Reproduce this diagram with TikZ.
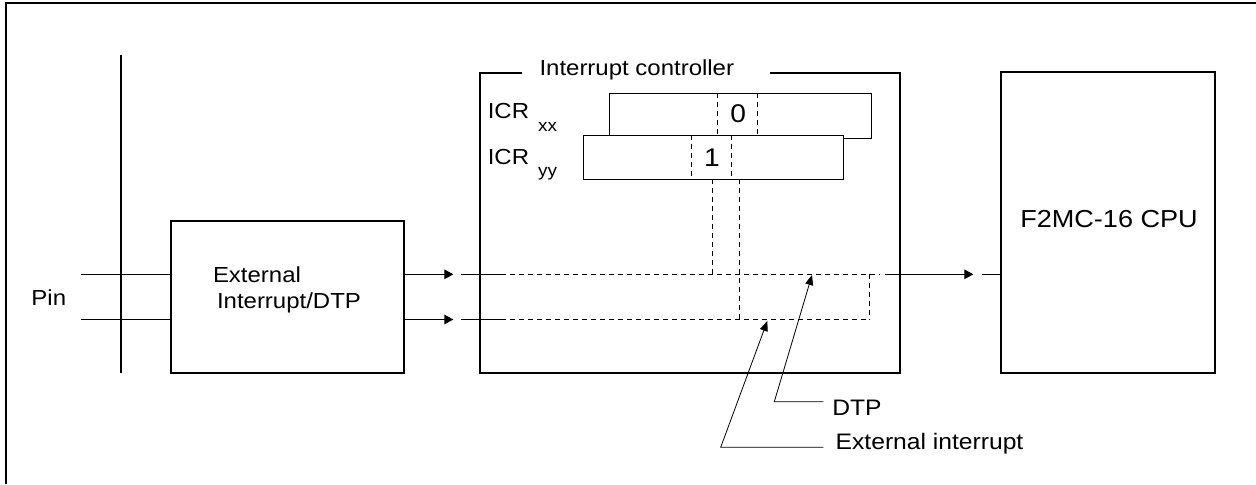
\documentclass[tikz,border=0pt]{standalone}
\usepackage{fontspec}
\setmainfont{Liberation Sans}[FakeStretch=1.1]
\usetikzlibrary{arrows.meta,calc}
\begin{document}
\begin{tikzpicture}[x=0.5pt,y=-0.5pt,
  lbl/.style={inner sep=0pt, outer sep=0pt, font=\fontsize{10.9}{12}\selectfont},
  lblm/.style={inner sep=0pt, outer sep=0pt, font=\fontsize{11.2}{12}\selectfont},
  lblb/.style={inner sep=0pt, outer sep=0pt, font=\fontsize{12.3}{14}\selectfont},
  lbld/.style={inner sep=0pt, outer sep=0pt, font=\fontsize{12.8}{14}\selectfont},
  bigbox/.style={draw, line width=1pt, rectangle, inner sep=0pt, outer sep=0pt},
  regbox/.style={draw, line width=0.5pt, rectangle, fill=white, inner sep=0pt, outer sep=0pt},
  sig/.style={line width=0.5pt},
  dsh/.style={line width=0.5pt, dash pattern=on 2.25pt off 2.25pt},
  sigarr/.style={line width=0.5pt, -{Triangle[length=4.5pt,width=4.8pt]}},
  leader/.style={line width=0.4pt, -{Triangle[length=5pt,width=4pt]}}
]
\useasboundingbox (0,0) rectangle (1256,484);
% outer frame
\draw[line width=1pt] (6,484) -- (6,3) -- (1256,3);

% bus line
\coordinate (busT) at (120.7,55);
\coordinate (busB) at (120.7,372.7);
\draw[line width=1pt] (busT) -- (busB);

% boxes
\node[bigbox, minimum width=116.65pt, minimum height=76pt] (ext) at (287.35,296.7) {};
\node[inner sep=0pt, outer sep=0pt, minimum width=209.85pt, minimum height=149.7pt] (ctrl) at (690.15,223) {};
\draw[line width=1pt] ($(ctrl.north west)+(41.7,0)$) -- (ctrl.north west) -- (ctrl.south west)
  -- (ctrl.south east) -- (ctrl.north east) -- ($(ctrl.north east)+(-130,0)$);
\node[bigbox, minimum width=107.3pt, minimum height=150.5pt] (cpu) at (1108,222.2) {};

% registers
\node[regbox, minimum width=131pt, minimum height=22.5pt] (icrxx) at (740,115.5) {};
\draw[dsh] (717.7,93) -- (717.7,138);
\draw[dsh] (757.3,93) -- (757.3,138);
\node[regbox, minimum width=130pt, minimum height=22pt] (icryy) at (713,157) {};
\draw[dsh] (691.7,135) -- (691.7,179);
\draw[dsh] (731.7,135) -- (731.7,179);

% texts
\node[lbl, anchor=base west] (pinlbl) at (31.5,305) {Pin};
\node[lbl, anchor=base west] (ext1) at (213,282.7) {External};
\node[lbl, anchor=base west] (ext2) at (217,308.3) {Interrupt/DTP};
\node[lbl, anchor=base west] (title) at (539.5,75.7) {Interrupt controller};
\node[lbl, anchor=base west] (icrxxlbl) at (487.8,118.3) {ICR\hspace{4.5pt}\raisebox{-6.4pt}{\fontsize{8.6}{9}\selectfont xx}};
\node[lbl, anchor=base west] (icryylbl) at (487.8,164) {ICR\hspace{4.5pt}\raisebox{-6pt}{\fontsize{8.6}{9}\selectfont yy}};
\node[lbld, anchor=base] (bit0) at (738.2,122.8) {0};
\node[lbld, anchor=base] (bit1) at (712,166.5) {1};
\node[lblb, anchor=base] (cpulbl) at (1109,227) {F2MC-16 CPU};
\node[lblm, anchor=base west] (dtplbl) at (832.3,415) {DTP};
\node[lblm, anchor=base west] (eilbl) at (835.7,449.3) {External interrupt};

% pin lines
\coordinate (pinA) at (81,274.3);
\coordinate (pinB) at (81,319.5);
\draw[sig] (pinA) -- (pinA -| ext.west);
\draw[sig] (pinB) -- (pinB -| ext.west);

% signal coordinates
\coordinate (tA) at (453.3,274.3);
\coordinate (rA) at (461,274.3);
\coordinate (dA) at (501,274.3);
\coordinate (eA) at (880,274.3);
\coordinate (oA) at (885,274.3);
\coordinate (tC) at (973.3,274.3);
\coordinate (rC) at (982,274.3);
\coordinate (tB) at (453.3,319.5);
\coordinate (rB) at (461,319.5);
\coordinate (dB) at (501,319.5);
\coordinate (eB) at (869.3,319.5);
\coordinate (eBt) at (869.3,274.3);
\coordinate (vA) at (712,179);
\coordinate (vAe) at (712,274.3);
\coordinate (vB) at (739,179);
\coordinate (vBe) at (739,319.5);

% top signal
\draw[sigarr] (ext.east |- tA) -- (tA);
\draw[sig] (rA) -- (dA);
\draw[dsh] (dA) -- (eA);
\draw[sigarr] (oA) -- (tC);
\draw[sig] (rC) -- (cpu.west |- rC);
% bottom signal
\draw[sigarr] (ext.east |- tB) -- (tB);
\draw[sig] (rB) -- (dB);
\draw[dsh] (dB) -- (eB);
\draw[dsh] (eBt) -- (eB);
% vertical dashed from registers
\draw[dsh] (vA) -- (vAe);
\draw[dsh] (vB) -- (vBe);

% leaders
\coordinate (dtpTip) at (812,275);
\coordinate (dtpBend) at (774.3,401.7);
\coordinate (dtpEnd) at (823.3,401.7);
\coordinate (eiTip) at (767.3,321);
\coordinate (eiBend) at (720.7,447.3);
\coordinate (eiEnd) at (823.3,447.3);
\draw[leader] (dtpEnd) -- (dtpBend) -- (dtpTip);
\draw[leader] (eiEnd) -- (eiBend) -- (eiTip);
\end{tikzpicture}
\end{document}
